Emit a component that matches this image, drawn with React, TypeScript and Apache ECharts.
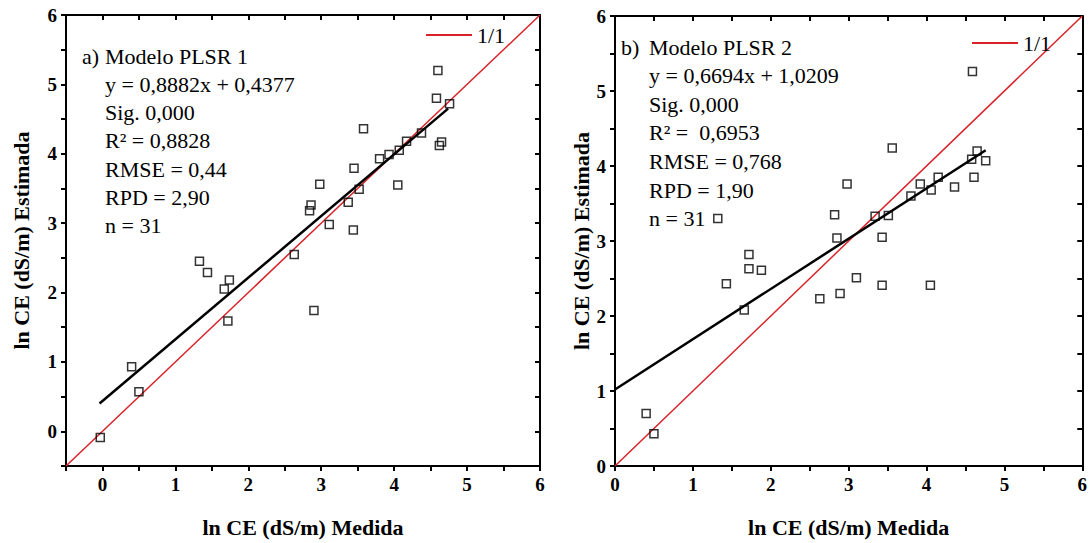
import React, { useEffect, useRef } from "react";
import * as echarts from "echarts";

// Panel a) measured vs estimated
const measuredA = [-0.03, 0.40, 0.50, 1.33, 1.44, 1.67, 1.72, 1.74, 2.63, 2.84, 2.86, 2.90, 2.98, 3.11, 3.37, 3.44, 3.45, 3.52, 3.58, 3.80, 3.93, 4.05, 4.07, 4.17, 4.375, 4.58, 4.60, 4.62, 4.65, 4.76];
const estimatedA = [-0.09, 0.93, 0.57, 2.45, 2.29, 2.05, 1.59, 2.18, 2.55, 3.18, 3.26, 1.74, 3.56, 2.98, 3.30, 2.90, 3.79, 3.49, 4.36, 3.93, 3.99, 3.55, 4.05, 4.18, 4.30, 4.80, 5.20, 4.12, 4.17, 4.72];
// Panel b)
const measuredB = [0.40, 0.50, 1.32, 1.43, 1.66, 1.72, 1.72, 1.88, 2.63, 2.82, 2.85, 2.89, 2.98, 3.10, 3.34, 3.43, 3.43, 3.51, 3.56, 3.80, 3.92, 4.05, 4.06, 4.15, 4.36, 4.58, 4.59, 4.61, 4.65, 4.76];
const estimatedB = [0.70, 0.43, 3.30, 2.43, 2.08, 2.82, 2.63, 2.61, 2.23, 3.35, 3.04, 2.30, 3.76, 2.51, 3.33, 3.05, 2.41, 3.34, 4.24, 3.60, 3.76, 2.41, 3.68, 3.85, 3.72, 4.09, 5.26, 3.85, 4.20, 4.07];

// Fitted lines (end points)
const fitA = [[-0.04, 0.40], [4.74, 4.65]];
const fitB = [[0, 1.02], [4.76, 4.21]];
const oneToOneA = [[-0.5, -0.5], [6, 6]];
const oneToOneB = [[0, 0], [6, 6]];

const statsA = ["Modelo PLSR 1", "y = 0,8882x + 0,4377", "Sig. 0,000", "R² = 0,8828", "RMSE = 0,44", "RPD = 2,90", "n = 31"];
const statsB = ["Modelo PLSR 2", "y = 0,6694x + 1,0209", "Sig. 0,000", "R² =  0,6953", "RMSE = 0,768", "RPD = 1,90", "n = 31"];

const xTitle = "ln CE (dS/m) Medida";
const yTitle = "ln CE (dS/m) Estimada";

const FONT = "'Liberation Serif', 'Times New Roman', serif";

export default function App() {
  const ref = useRef<HTMLDivElement>(null);
  useEffect(() => {
    if (!ref.current) return;
    const chart = echarts.init(ref.current, undefined, { renderer: "svg" });
    const labelFmt = (v: number) => (Number.isInteger(v) && v >= 0 ? String(v) : "");
    const mainAxis = (gridIndex: number, min: number, pos: string, name: string, gap: number) => ({
      type: "value",
      gridIndex,
      position: pos,
      min,
      max: 6,
      interval: 0.5,
      name,
      nameLocation: "middle",
      nameGap: gap,
      nameTextStyle: { fontFamily: FONT, fontWeight: "bold", fontSize: 22, color: "#000" },
      axisLine: { show: true, onZero: false, lineStyle: { color: "#000", width: 2 } },
      axisTick: { show: true, inside: false, length: 5, lineStyle: { color: "#000", width: 2 } },
      axisLabel: { formatter: labelFmt, fontFamily: FONT, fontWeight: "bold", fontSize: 19, color: "#000", margin: 9 },
      splitLine: { show: false },
    });
    const mirrorAxis = (gridIndex: number, min: number, pos: string) => ({
      type: "value",
      gridIndex,
      position: pos,
      min,
      max: 6,
      interval: 0.5,
      axisLine: { show: true, onZero: false, lineStyle: { color: "#000", width: 2 } },
      axisTick: { show: true, inside: true, length: 5, lineStyle: { color: "#000", width: 2 } },
      axisLabel: { show: false },
      splitLine: { show: false },
    });
    const zip = (a: number[], b: number[]) => a.map((v, i) => [v, b[i]]);
    const scatter = (i: number, data: number[][]) => ({
      type: "scatter",
      xAxisIndex: i * 2,
      yAxisIndex: i * 2,
      data,
      symbol: "rect",
      symbolSize: 8,
      itemStyle: { color: "rgba(0,0,0,0)", borderColor: "#000", borderWidth: 1.5 },
      z: 5,
    });
    const line = (i: number, data: number[][], name: string, color: string, width: number) => ({
      type: "line",
      name,
      xAxisIndex: i * 2,
      yAxisIndex: i * 2,
      data,
      symbol: "none",
      showSymbol: false,
      lineStyle: { color, width },
      itemStyle: { color },
      z: 3,
    });
    const textLines = (lines: string[], prefix: string, px: number, tx: number, y0: number, dy: number) => {
      const els: any[] = [
        { type: "text", left: px, top: y0 - 12, style: { text: prefix, font: `22px ${FONT}`, fill: "#000" } },
      ];
      lines.forEach((t, k) => {
        els.push({ type: "text", left: tx, top: y0 - 12 + k * dy, style: { text: t, font: `22px ${FONT}`, fill: "#000" } });
      });
      return els;
    };
    const legend = (left: number, top: number) => ({
      data: ["1/1"],
      left,
      top,
      icon: "rect",
      itemWidth: 46,
      itemHeight: 2,
      itemStyle: { color: "#d8232a" },
      textStyle: { fontFamily: FONT, fontSize: 22, color: "#000" },
      selectedMode: false,
    });
    chart.setOption({
      animation: false,
      grid: [
        { left: 66, top: 15, width: 474, height: 455 },
        { left: 615, top: 16, width: 473, height: 455 },
      ],
      xAxis: [
        mainAxis(0, -0.5, "bottom", xTitle, 50),
        mirrorAxis(0, -0.5, "top"),
        mainAxis(1, 0, "bottom", xTitle, 50),
        mirrorAxis(1, 0, "top"),
      ],
      yAxis: [
        mainAxis(0, -0.5, "left", yTitle, 34),
        mirrorAxis(0, -0.5, "right"),
        mainAxis(1, 0, "left", yTitle, 23),
        mirrorAxis(1, 0, "right"),
      ],
      legend: [legend(421, 19), legend(967, 27)],
      graphic: [
        ...textLines(statsA, "a)", 82, 105, 57, 28.3),
        ...textLines(statsB, "b)", 621, 649, 48, 28.6),
      ],
      series: [
        line(0, oneToOneA, "1/1", "#d8232a", 1.5),
        line(0, fitA, "fitA", "#000", 2.5),
        scatter(0, zip(measuredA, estimatedA)),
        line(1, oneToOneB, "1/1", "#d8232a", 1.5),
        line(1, fitB, "fitB", "#000", 2.5),
        scatter(1, zip(measuredB, estimatedB)),
      ],
    });
    return () => chart.dispose();
  }, []);
  return <div ref={ref} style={{ position: "absolute", left: 0, top: 0, width: 1090, height: 543, background: "#fff" }} />;
}
